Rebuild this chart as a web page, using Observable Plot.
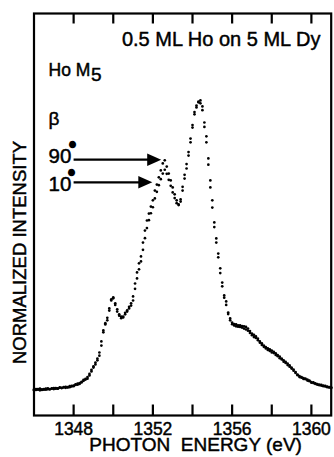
<!DOCTYPE html>
<html><head><meta charset="utf-8">
<script src="https://cdn.jsdelivr.net/npm/d3@7"></script>
<script src="https://cdn.jsdelivr.net/npm/@observablehq/plot@0.6"></script>
<style>html,body{margin:0;padding:0;background:#fff}svg{display:block}</style>
</head><body><div id="chart"></div>
<script>
// Photon energy (eV) of each measured point
const energy = [
1346.0,1346.1,1346.2,1346.3,1346.4,1346.5,1346.6,1346.7,1346.8,1346.9,
1347.0,1347.1,1347.2,1347.3,1347.4,1347.5,1347.6,1347.7,1347.8,1347.9,
1348.0,1348.1,1348.2,1348.3,1348.4,1348.5,1348.6,1348.7,1348.8,1348.9,
1349.0,1349.1,1349.2,1349.3,1349.4,1349.5,1349.6,1349.7,1349.8,1349.9,
1350.0,1350.1,1350.2,1350.3,1350.4,1350.5,1350.6,1350.7,1350.8,1350.9,
1351.0,1351.1,1351.2,1351.3,1351.4,1351.5,1351.6,1351.7,1351.8,1351.9,
1352.0,1352.1,1352.2,1352.3,1352.4,1352.5,1352.6,1352.7,1352.8,1352.9,
1353.0,1353.1,1353.2,1353.3,1353.4,1353.5,1353.6,1353.7,1353.8,1353.9,
1354.0,1354.1,1354.2,1354.3,1354.4,1354.5,1354.6,1354.7,1354.8,1354.9,
1355.0,1355.1,1355.2,1355.3,1355.4,1355.5,1355.6,1355.7,1355.8,1355.9,
1356.0,1356.1,1356.2,1356.3,1356.4,1356.5,1356.6,1356.7,1356.8,1356.9,
1357.0,1357.1,1357.2,1357.3,1357.4,1357.5,1357.6,1357.7,1357.8,1357.9,
1358.0,1358.1,1358.2,1358.3,1358.4,1358.5,1358.6,1358.7,1358.8,1358.9,
1359.0,1359.1,1359.2,1359.3,1359.4,1359.5,1359.6,1359.7,1359.8,1359.9,
1360.0,1360.1,1360.2,1360.3,1360.4,1360.5,1360.6,1360.7,1360.8,1360.9,
1361.0];

// Normalized intensity, beta = 90 deg (arbitrary units, main peak = 100)
const intensity90 = [
8.3,8.1,8.4,8.0,8.3,8.2,8.5,8.3,8.4,8.6,
8.4,8.7,8.5,8.8,8.7,8.9,8.8,8.9,9.0,9.2,
9.5,9.7,9.8,10.0,10.5,11.0,11.4,11.7,12.7,14.0,
15.2,16.2,17.5,19.0,22.2,27.0,28.9,30.2,33.3,36.5,
37.5,35.6,33.7,32.1,31.4,31.1,32.1,33.0,34.0,34.9,
36.5,41.9,45.4,48.3,50.5,54.9,58.7,61.9,64.1,66.3,
68.3,71.4,73.3,75.6,77.8,80.0,81.0,79.0,76.8,74.6,
72.4,70.2,68.3,67.0,67.9,71.4,75.2,78.4,82.5,86.7,
91.4,95.6,97.8,99.4,100.0,98.1,93.0,88.6,81.6,74.6,
68.3,61.3,56.2,51.4,46.7,42.2,38.1,36.2,32.7,30.8,
29.5,29.0,28.9,28.6,28.6,28.4,28.3,28.1,27.6,26.8,
26.0,25.6,25.1,24.4,23.5,22.9,22.2,21.7,21.3,21.0,
20.6,20.2,19.7,19.2,18.7,18.1,17.5,17.0,16.5,15.9,
15.2,14.6,13.8,13.0,12.5,12.2,11.9,11.7,11.4,11.1,
10.6,10.5,10.2,10.0,9.8,9.7,9.5,9.4,9.2,9.0,
8.9];

// Normalized intensity, beta = 10 deg
const intensity10 = [
8.0,8.4,8.2,8.5,8.1,8.4,8.2,8.6,8.3,8.5,
8.7,8.5,8.6,8.9,8.8,9.0,9.1,9.0,9.3,9.4,
9.3,9.9,10.1,10.3,10.7,11.3,11.6,12.2,13.2,14.5,
15.6,16.8,18.1,20.0,23.5,26.4,29.3,31.0,34.0,36.9,
37.2,35.1,33.0,31.7,30.9,31.4,32.6,33.4,34.5,35.6,
37.8,40.2,43.5,46.4,48.9,52.6,56.3,59.5,62.0,64.2,
66.1,68.9,71.0,73.1,75.0,76.8,78.0,76.7,74.8,72.9,
70.8,69.0,67.4,66.8,68.6,72.6,76.4,79.8,83.6,87.9,
92.2,96.3,98.4,99.6,99.1,96.9,91.6,86.7,79.6,72.4,
66.0,59.8,54.9,50.2,45.2,41.0,37.4,35.1,32.2,30.2,
29.0,28.6,28.3,28.2,28.1,27.9,27.6,27.3,26.9,26.2,
25.5,24.9,24.6,23.9,23.1,22.4,21.8,21.3,20.8,20.5,
20.0,19.8,19.2,18.8,18.2,17.8,17.1,16.7,16.0,15.5,
14.9,14.2,13.5,12.8,12.2,12.0,11.6,11.5,11.1,10.9,
10.4,10.3,10.0,9.8,9.6,9.5,9.3,9.2,9.0,8.9,
8.7];

const xTicks = [1348, 1350, 1352, 1354, 1356, 1358, 1360];
const xTickLabels = [1348, 1352, 1356, 1360];
const xLabel = "PHOTON  ENERGY (eV)";
const yLabel = "NORMALIZED INTENSITY";
const title = "0.5 ML Ho on 5 ML Dy";

// Arrow annotations
const arrowNames = ["90", "10"];
const arrowFromE = [1348.2, 1348.2];
const arrowToE = [1352.42, 1351.97];
const arrowLevel = [81.2, 74.0];

const rows = energy.flatMap((e, i) => [
  {E: e, I: intensity90[i], beta: "90°"},
  {E: e, I: intensity10[i], beta: "10°"}
]);
const arrows = arrowNames.map((n, i) => ({name: n, x1: arrowFromE[i], x2: arrowToE[i], y: arrowLevel[i]}));

const rightTriangle = {
  draw(ctx, size) {
    const k = Math.sqrt(size / Math.PI);
    const L = 2.8 * k, h = 1.25 * k;
    ctx.moveTo(0, 0); ctx.lineTo(-L, -h); ctx.lineTo(-L, h); ctx.closePath();
  }
};

const W = 334, H = 457, mL = 33.5, mR = 3.3, mT = 13, mB = 42;
const yDomain = [0, 127.6];
const tickLen = (yDomain[1] - yDomain[0]) * 10.5 / (H - mT - mB); // ~10 px inward ticks
const font = "'Liberation Sans', Arial, Helvetica, sans-serif";
const ink = {fill: "#000", stroke: "#000", strokeWidth: 0.45};

const chart = Plot.plot({
  width: W, height: H,
  marginLeft: mL, marginRight: mR, marginTop: mT, marginBottom: mB,
  style: {fontFamily: font, background: "#fff", color: "#000", overflow: "visible"},
  x: {domain: [1346, 1361], axis: null},
  y: {domain: yDomain, axis: null},
  marks: [
    Plot.dot(rows, {x: "E", y: "I", r: 1.35, fill: "#000", stroke: null}),
    Plot.frame({stroke: "#000", strokeWidth: 2.2}),
    Plot.ruleX(xTicks, {x: d => d, y1: yDomain[0], y2: yDomain[0] + tickLen, stroke: "#000", strokeWidth: 2.2}),
    Plot.ruleX(xTicks, {x: d => d, y1: yDomain[1], y2: yDomain[1] - tickLen, stroke: "#000", strokeWidth: 2.2}),
    Plot.text(xTickLabels, {x: d => d, text: d => String(d), frameAnchor: "bottom", dy: 19.5, lineAnchor: "bottom", textAnchor: "middle", fontSize: 17.5, ...ink}),
    Plot.text([xLabel], {frameAnchor: "bottom", dx: 13, dy: 35.5, lineAnchor: "bottom", textAnchor: "middle", fontSize: 19, ...ink}),
    Plot.text([yLabel], {frameAnchor: "left", dx: -14.2, dy: 38, rotate: -90, lineAnchor: "middle", textAnchor: "middle", fontSize: 18.5, ...ink}),
    Plot.text([title], {frameAnchor: "top-right", dx: -10.7, dy: 32, lineAnchor: "bottom", textAnchor: "end", fontSize: 20, ...ink}),
    Plot.text(["Ho M"], {frameAnchor: "top-left", dx: 14.5, dy: 62, lineAnchor: "bottom", textAnchor: "start", fontSize: 17.5, ...ink}),
    Plot.text(["5"], {frameAnchor: "top-left", dx: 57, dy: 67, lineAnchor: "bottom", textAnchor: "start", fontSize: 19, ...ink}),
    Plot.text(["β"], {frameAnchor: "top-left", dx: 14.5, dy: 111, lineAnchor: "bottom", textAnchor: "start", fontSize: 19, ...ink}),
    Plot.text(["90"], {frameAnchor: "top-left", dx: 14.5, dy: 149.5, lineAnchor: "bottom", textAnchor: "start", fontSize: 20.5, ...ink}),
    Plot.text(["10"], {frameAnchor: "top-left", dx: 14.5, dy: 177.5, lineAnchor: "bottom", textAnchor: "start", fontSize: 20.5, ...ink}),
    Plot.text(["°"], {frameAnchor: "top-left", dx: 35.5, dy: 139.5, lineAnchor: "bottom", textAnchor: "start", fontSize: 15, fontWeight: "bold", fill: "#000", stroke: "#000", strokeWidth: 2.4}),
    Plot.text(["°"], {frameAnchor: "top-left", dx: 34.5, dy: 167.5, lineAnchor: "bottom", textAnchor: "start", fontSize: 15, fontWeight: "bold", fill: "#000", stroke: "#000", strokeWidth: 2.4}),
    Plot.link(arrows, {x1: "x1", x2: "x2", y1: "y", y2: "y", stroke: "#000", strokeWidth: 2.2, dx: -4}),
    Plot.dot(arrows, {x: "x2", y: "y", symbol: rightTriangle, r: 5, fill: "#000", stroke: null})
  ]
});
document.getElementById("chart").appendChild(chart);
</script>
</body></html>
